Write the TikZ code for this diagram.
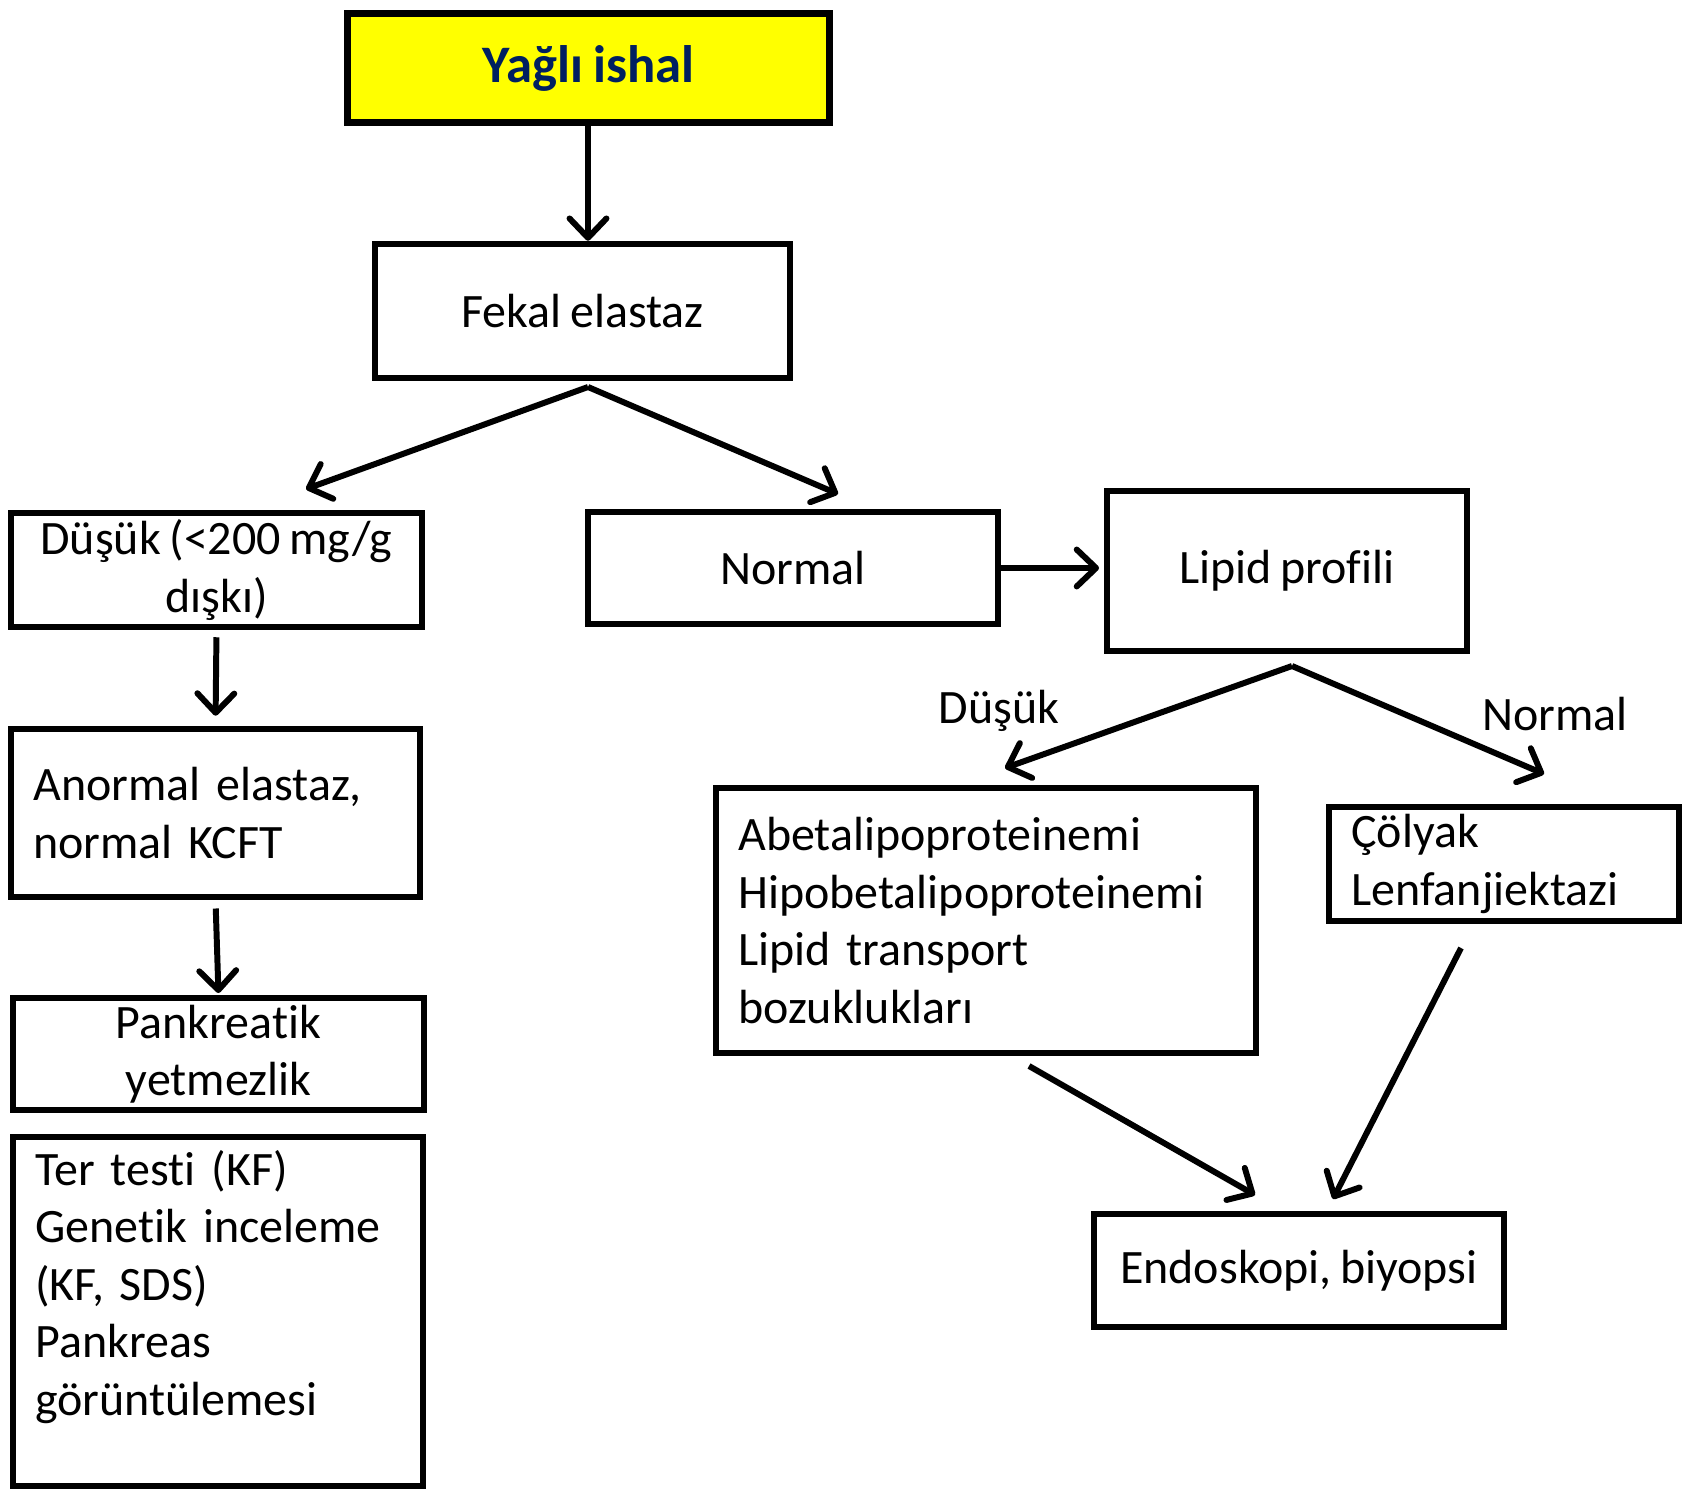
\documentclass[tikz,border=0pt]{standalone}
\usepackage{fontspec}
\setmainfont{Carlito}[Ligatures=NoCommon, WordSpace=0.8]
\usetikzlibrary{arrows.meta}
\definecolor{titleblue}{RGB}{0,32,96}
\definecolor{titleyellow}{RGB}{255,255,0}

\tikzset{
  box/.style={draw, line width=3.4pt, inner sep=0pt, align=center,
    font=\fontsize{27.3}{32.7}\selectfont},
  leftbox/.style={box, align=left, inner xsep=0.44cm},
  arr/.style={line width=3.4pt, -{Straight Barb[length=11pt,width=21pt,round]}},
  branch/.style={font=\fontsize{27.3}{32.7}\selectfont},
}

\begin{document}
\begin{tikzpicture}[x=0.02cm, y=-0.02cm]
            \useasboundingbox (0,0) rectangle (1685,1490);
            % title
            \node[box, line width=4pt, fill=titleyellow, text=titleblue,
              font=\fontsize{30}{34}\selectfont\bfseries,
              minimum width=9.64cm, minimum height=2.18cm] (title) at (588.5,68) {Yağlı ishal};
            \node[box, minimum width=8.29cm, minimum height=2.69cm] (fekal) at (582.5,311) {Fekal elastaz};
            % left column
            \node[box, minimum width=8.21cm, minimum height=2.29cm] (dusuk) at (216.5,570) {Düşük (<200 mg/g\\dışkı)};
            \node[leftbox, text width=7.29cm, minimum height=3.35cm] (anormal) at (215.5,813) {Anormal elastaz,\\normal KCFT};
            \node[box, minimum width=8.21cm, minimum height=2.25cm] (pankreatik) at (218.5,1054) {Pankreatik\\yetmezlik};
            \node[leftbox, text width=7.31cm, minimum height=6.97cm] (tests) at (218,1311.5)
              {Ter testi (KF)\\Genetik inceleme\\(KF, SDS)\\Pankreas\\görüntülemesi\\\mbox{}};
            % right part
            \node[box, minimum width=8.19cm, minimum height=2.25cm] (normal) at (793,568) {Normal};
            \node[box, minimum width=7.19cm, minimum height=3.21cm] (lipid) at (1287,571) {Lipid profili};
            \node[leftbox, text width=9.91cm, minimum height=5.29cm] (abeta) at (986,920.5)
              {Abetalipoproteinemi\\Hipobetalipoproteinemi\\Lipid transport\\bozuklukları};
            \node[leftbox, text width=6.11cm, minimum height=2.29cm] (colyak) at (1504,864) {Çölyak\\Lenfanjiektazi};
            \node[box, minimum width=8.19cm, minimum height=2.27cm] (endo) at (1299,1270.5) {Endoskopi, biyopsi};
            % branch labels
            \node[branch] (lowlabel) at (999,711) {Düşük};
            \node[branch] (normlabel) at (1555,714) {Normal};
            % coordinates
            \coordinate (fekalfork) at (588,387);
            \coordinate (fekalleft) at (306,489);
            \coordinate (fekalright) at (838,494);
            \coordinate (lipidfork) at (1292,666);
            \coordinate (lipidleft) at (1005,768);
            \coordinate (lipidright) at (1544,774);
            \coordinate (abetaout) at (1029,1066);
            \coordinate (abetaend) at (1255,1195);
            \coordinate (colyakout) at (1461,948);
            \coordinate (colyakend) at (1333,1199);
            % arrows
            \draw[arr] (title.south -| fekalfork) -- (fekal.north -| fekalfork);
            \draw[arr] (fekalfork) -- (fekalleft);
            \draw[arr] (fekalfork) -- (fekalright);
            \draw[arr, shorten <=4pt, shorten >=6pt] (dusuk.south) -- (anormal.north);
            \draw[arr, shorten <=5pt, shorten >=1pt] (anormal.south) -- (pankreatik.north);
            \draw[arr, shorten >=3pt] (normal.east) -- (lipid.west |- normal.east);
            \draw[arr] (lipidfork) -- (lipidleft);
            \draw[arr] (lipidfork) -- (lipidright);
            \draw[arr] (abetaout) -- (abetaend);
            \draw[arr] (colyakout) -- (colyakend);
        \end{tikzpicture}
\end{document}
